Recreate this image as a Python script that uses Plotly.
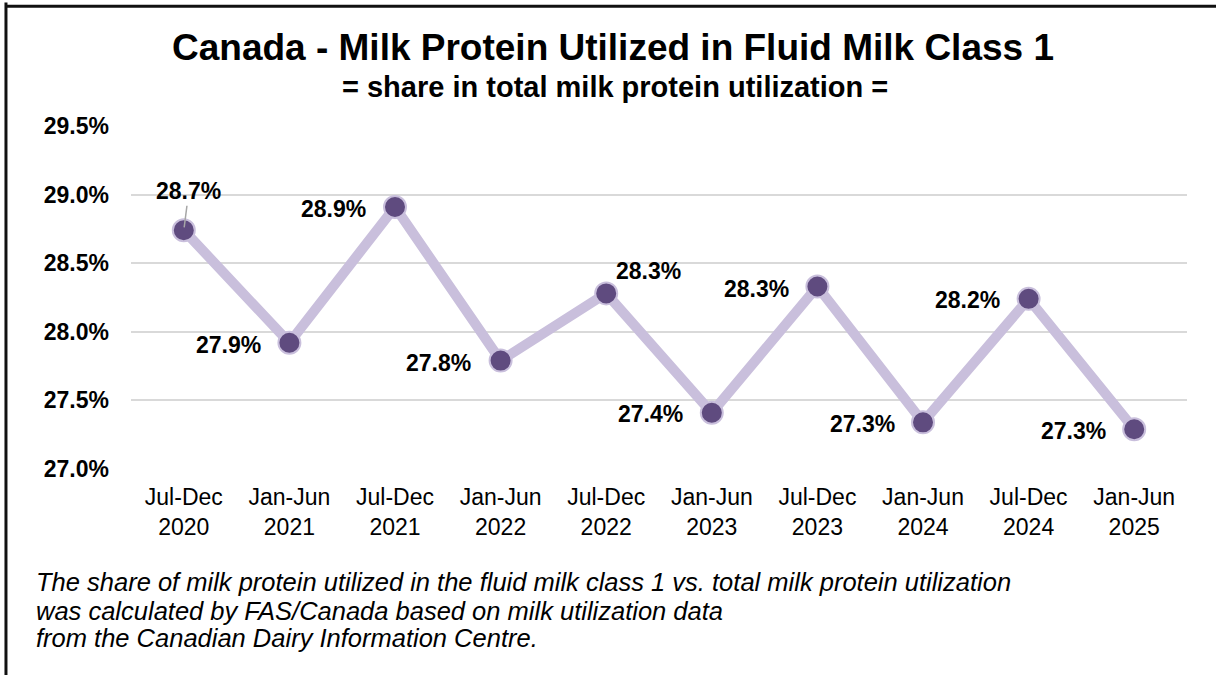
import plotly.graph_objects as go

categories = ["Jul-Dec<br>2020", "Jan-Jun<br>2021", "Jul-Dec<br>2021", "Jan-Jun<br>2022",
              "Jul-Dec<br>2022", "Jan-Jun<br>2023", "Jul-Dec<br>2023", "Jan-Jun<br>2024",
              "Jul-Dec<br>2024", "Jan-Jun<br>2025"]
share_pct = [28.74, 27.92, 28.91, 27.79, 28.28, 27.41, 28.33, 27.34, 28.24, 27.29]
y_ticks = [27.0, 27.5, 28.0, 28.5, 29.0, 29.5]
y_tick_labels = ["27.0%", "27.5%", "28.0%", "28.5%", "29.0%", "29.5%"]

footnote_lines = [
    "The share of milk protein utilized in the fluid milk class 1 vs. total milk protein utilization",
    "was calculated by FAS/Canada based on milk utilization data",
    "from the Canadian Dairy Information Centre.",
]

# label offsets (pixels, style only)
label_dx = [5, -61, -62, -62, 42, -61, -61, -61, -61, -61]
label_dy = [39, -2, -2, -2, 22, -1, -2, -2, -1, -2]
footnote_y = [-0.3294, -0.4140, -0.4927]

FONT = "Arial, 'Liberation Sans', sans-serif"
LINE_COLOR = "#c9bfdc"
MARKER_COLOR = "#5f4b7f"

fig = go.Figure()
fig.add_trace(go.Scatter(
    x=categories, y=share_pct, mode="lines+markers",
    line=dict(color=LINE_COLOR, width=10),
    marker=dict(size=22, color=MARKER_COLOR, line=dict(color=LINE_COLOR, width=2)),
    showlegend=False, hoverinfo="skip",
))

annotations = []
for i, (c, v) in enumerate(zip(categories, share_pct)):
    txt = f"{v:.1f}%"
    if i == 0:
        annotations.append(dict(
            x=c, y=v, xref="x", yref="y", text=txt, showarrow=True,
            ax=label_dx[i], ay=-label_dy[i], arrowhead=0, arrowwidth=1.5,
            arrowcolor="#a6a6a6", standoff=3,
            font=dict(family=FONT, size=23, color="black", weight="bold")))
    else:
        annotations.append(dict(
            x=c, y=v, xref="x", yref="y", text=txt, showarrow=False,
            xshift=label_dx[i], yshift=label_dy[i],
            font=dict(family=FONT, size=23, color="black", weight="bold")))

annotations.append(dict(
    x=0.4564, y=1.2303, xref="paper", yref="paper", xanchor="center", yanchor="middle",
    text="<b>Canada - Milk Protein Utilized in Fluid Milk Class 1</b>", showarrow=False,
    font=dict(family=FONT, size=37, color="black")))
annotations.append(dict(
    x=0.458, y=1.1137, xref="paper", yref="paper", xanchor="center", yanchor="middle",
    text="<b>= share in total milk protein utilization =</b>", showarrow=False,
    font=dict(family=FONT, size=29, color="black")))
for line, fy in zip(footnote_lines, footnote_y):
    annotations.append(dict(
        x=-0.0919, y=fy, xref="paper", yref="paper", xanchor="left", yanchor="middle",
        align="left", showarrow=False, text=f"<i>{line}</i>",
        font=dict(family=FONT, size=25.5, color="black")))

shapes = [
    dict(type="line", xref="paper", yref="paper", x0=-0.1184, x1=1.05, y0=1.349, y1=1.349,
         line=dict(color="#111111", width=3)),
    dict(type="line", xref="paper", yref="paper", x0=-0.1184, x1=-0.1184, y0=1.36, y1=-0.62,
         line=dict(color="#111111", width=3)),
]

fig.update_layout(
    width=1216, height=675,
    margin=dict(l=131, r=29, t=126, b=206),
    paper_bgcolor="white", plot_bgcolor="white",
    font=dict(family=FONT, color="black"),
    annotations=annotations, shapes=shapes,
    xaxis=dict(showgrid=False, showline=False, zeroline=False, ticks="",
               tickfont=dict(family=FONT, size=23, color="black"),
               ticklabelstandoff=12, range=[-0.5, 9.5]),
    yaxis=dict(range=[27.0, 29.5], tickvals=y_ticks, ticktext=y_tick_labels,
               showgrid=True, gridcolor="#d9d9d9", gridwidth=2, zeroline=False,
               showline=False, ticks="",
               tickfont=dict(family=FONT, size=23, color="black", weight="bold"),
               ticklabelstandoff=21),
)

fig.write_html("out.html")
